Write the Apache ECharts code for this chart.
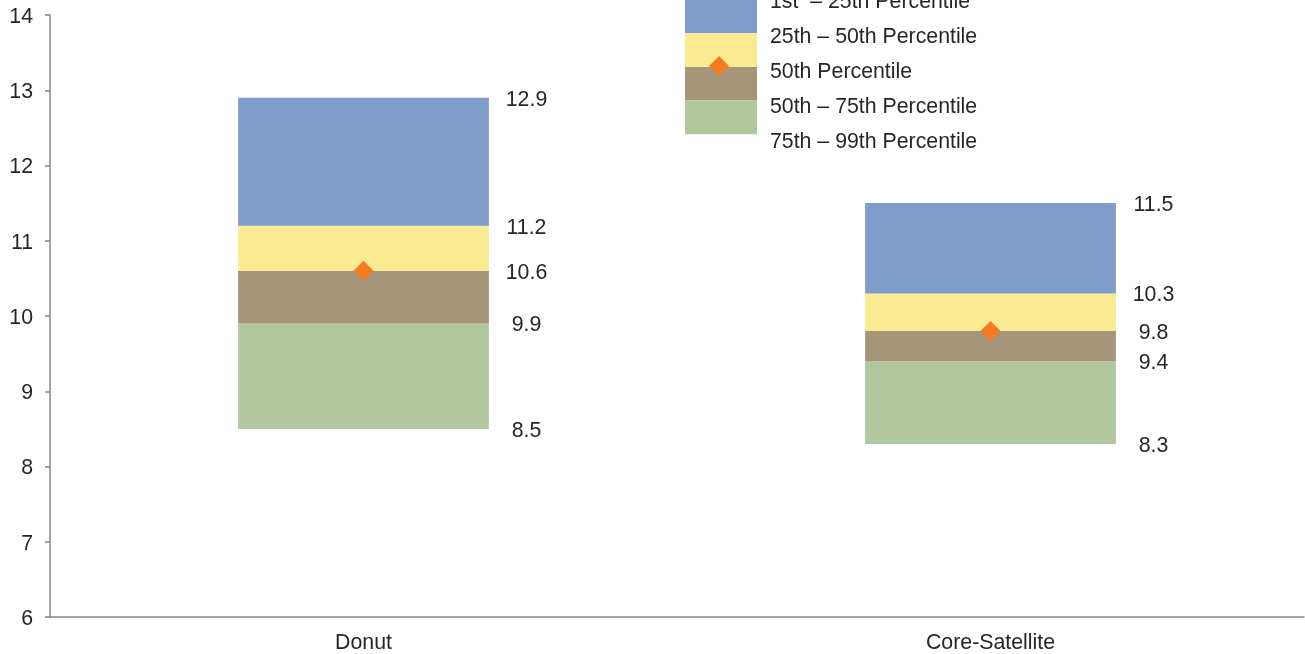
<!DOCTYPE html>
<html>
<head>
<meta charset="utf-8">
<script src="https://cdn.jsdelivr.net/npm/echarts@6/dist/echarts.min.js"></script>
<style>
  html, body { margin: 0; padding: 0; background: #ffffff; }
  #chart { width: 1305px; height: 654px; }
</style>
</head>
<body>
<div id="chart"></div>
<script>
// Portfolio approaches compared on the horizontal axis
const categories = ['Donut', 'Core-Satellite'];

// Percentile boundaries for each approach (bottom to top of each bar)
const p99 = [8.5, 8.3];
const p75 = [9.9, 9.4];
const p50 = [10.6, 9.8];
const p25 = [11.2, 10.3];
const p1 = [12.9, 11.5];

// Series names shown in the key
const nameTop = '1st  \u2013 25th Percentile';
const nameUpper = '25th \u2013 50th Percentile';
const nameMedian = '50th Percentile';
const nameLower = '50th \u2013 75th Percentile';
const nameBottom = '75th \u2013 99th Percentile';

const COLORS = {
  top: '#7f9ccb',
  upper: '#faea92',
  lower: '#a6957b',
  bottom: '#b1c89e',
  median: '#f47b20',
  text: '#262626',
  axis: '#868686'
};
const FONT = "'Liberation Sans', Arial, sans-serif";
const FONT_SIZE = 21.3;

const diff = (hi, lo) => hi.map((v, i) => +(v - lo[i]).toFixed(4));

// label points at every band boundary
const labelPoints = [];
categories.forEach((c, i) => {
  [p1, p25, p50, p75, p99].forEach(arr => labelPoints.push([i, arr[i]]));
});

const chart = echarts.init(document.getElementById('chart'), null, { renderer: 'canvas' });

const stackBar = (name, data, color) => ({
  name: name,
  type: 'bar',
  stack: 'range',
  barWidth: '40%',
  data: data,
  itemStyle: { color: color },
  emphasis: { disabled: true }
});

chart.setOption({
  animation: false,
  textStyle: { fontFamily: FONT, color: COLORS.text },
  grid: { left: 50, right: 1, top: 15, bottom: 37, containLabel: false },
  legend: [
    {
      // colour blocks
      orient: 'vertical',
      left: 685,
      top: -0.5,
      padding: 0,
      itemGap: 0,
      itemWidth: 72,
      itemHeight: 33.7,
      icon: 'rect',
      selectedMode: false,
      formatter: () => '',
      textStyle: { fontSize: 1 },
      data: [nameTop, nameUpper, nameLower, nameBottom]
    },
    {
      // median marker in the key
      orient: 'vertical',
      left: 709,
      top: 56,
      padding: 0,
      itemWidth: 20,
      itemHeight: 20,
      icon: 'diamond',
      selectedMode: false,
      formatter: () => '',
      textStyle: { fontSize: 1 },
      data: [{ name: nameMedian, itemStyle: { color: COLORS.median, opacity: 1 } }]
    },
    {
      // key text
      orient: 'vertical',
      left: 755,
      top: -8.5,
      padding: 0,
      itemGap: 14,
      itemWidth: 10,
      itemHeight: 21,
      icon: 'rect',
      selectedMode: false,
      textStyle: { fontSize: FONT_SIZE, lineHeight: 21, color: COLORS.text, fontFamily: FONT },
      data: [nameTop, nameUpper, nameMedian, nameLower, nameBottom].map(n => ({
        name: n,
        itemStyle: { opacity: 0 }
      }))
    }
  ],
  xAxis: {
    type: 'category',
    data: categories,
    boundaryGap: true,
    axisLine: { show: true, lineStyle: { color: COLORS.axis, width: 1.5 } },
    axisTick: { show: false },
    axisLabel: { fontSize: FONT_SIZE, color: COLORS.text, margin: 16, fontFamily: FONT },
    splitLine: { show: false }
  },
  yAxis: {
    type: 'value',
    min: 6,
    max: 14,
    interval: 1,
    axisLine: { show: true, lineStyle: { color: COLORS.axis, width: 1.5 } },
    axisTick: { show: true, inside: false, length: 5, lineStyle: { color: COLORS.axis, width: 1.5 } },
    axisLabel: {
      color: COLORS.text,
      margin: 17,
      formatter: v => '{n|' + v + '}',
      rich: {
        n: {
          fontSize: FONT_SIZE,
          fontFamily: FONT,
          color: COLORS.text,
          padding: [4, 0, 0, 0]
        }
      }
    },
    splitLine: { show: false }
  },
  series: [
    {
      name: 'base',
      type: 'bar',
      stack: 'range',
      barWidth: '40%',
      data: p99,
      itemStyle: { color: 'rgba(0,0,0,0)' },
      emphasis: { disabled: true },
      silent: true
    },
    stackBar(nameBottom, diff(p75, p99), COLORS.bottom),
    stackBar(nameLower, diff(p50, p75), COLORS.lower),
    stackBar(nameUpper, diff(p25, p50), COLORS.upper),
    stackBar(nameTop, diff(p1, p25), COLORS.top),
    {
      name: nameMedian,
      type: 'scatter',
      symbol: 'diamond',
      symbolSize: 20,
      z: 5,
      data: p50.map((v, i) => [i, v]),
      itemStyle: { color: COLORS.median, opacity: 1 },
      emphasis: { disabled: true }
    },
    {
      name: 'values',
      type: 'scatter',
      symbolSize: 0,
      silent: true,
      z: 6,
      data: labelPoints,
      itemStyle: { opacity: 1 },
      label: {
        show: true,
        position: 'inside',
        offset: [163, 2],
        align: 'center',
        verticalAlign: 'middle',
        fontSize: FONT_SIZE,
        color: COLORS.text,
        fontFamily: FONT,
        formatter: p => p.value[1].toFixed(1)
      }
    }
  ]
});
</script>
</body>
</html>
